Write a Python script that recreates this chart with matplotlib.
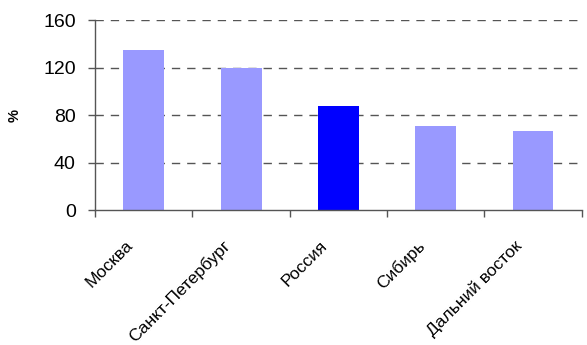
import matplotlib
matplotlib.use("Agg")
import matplotlib.pyplot as plt
from matplotlib.ticker import FixedLocator, NullFormatter
import matplotlib.transforms as mtransforms

plt.rcParams['font.family'] = ['Liberation Sans', 'DejaVu Sans']

regions = ["Москва", "Санкт-Петербург", "Россия", "Сибирь", "Дальний восток"]
values = [135, 120, 88, 71, 67]
colors = ["#9999FF", "#9999FF", "#0000FF", "#9999FF", "#9999FF"]
yticks = [0, 40, 80, 120, 160]

fig = plt.figure(figsize=(5.87, 3.45), dpi=100)
ax = fig.add_axes([0.162, 0.391, 0.829, 0.551])

x = list(range(len(regions)))
ax.bar(x, values, width=0.42, color=colors, zorder=3)

ax.set_xlim(-0.5, len(regions) - 0.5)
ax.set_ylim(0, 160)
ax.set_yticks(yticks)
ax.tick_params(axis="y", labelsize=14, length=5, width=1, color="#555555", pad=9)

ax.set_xticks(x)
ax.set_xticklabels(regions, rotation=45, ha="right", rotation_mode="anchor", fontsize=12.5)
ax.tick_params(axis="x", which="major", length=0, pad=20)
offset = mtransforms.ScaledTranslation(-19 / 100, 0, fig.dpi_scale_trans)
for lab in ax.get_xticklabels():
    lab.set_transform(lab.get_transform() + offset)
ax.xaxis.set_minor_locator(FixedLocator([i - 0.5 for i in range(len(regions) + 1)]))
ax.xaxis.set_minor_formatter(NullFormatter())
ax.tick_params(axis="x", which="minor", length=5, width=1, color="#555555")

for yv in yticks[1:]:
    ax.axhline(yv, color="#555555", lw=1, ls=(0, (6, 5)), zorder=1)

for s in ["top", "right"]:
    ax.spines[s].set_visible(False)
for s in ["left", "bottom"]:
    ax.spines[s].set_color("#555555")
    ax.spines[s].set_linewidth(1)
ax.spines["bottom"].set_zorder(4)

ax.set_ylabel("%", fontsize=10.5, fontweight="bold")
ax.yaxis.set_label_coords(-0.152, 0.5)

fig.savefig("out.png", dpi=100)
